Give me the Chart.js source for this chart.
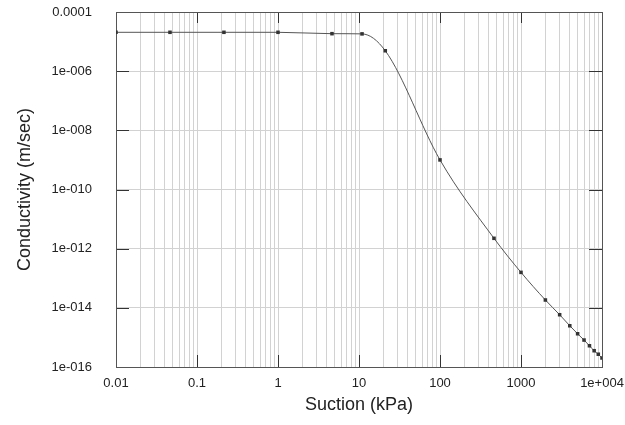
<!DOCTYPE html>
<html>
<head>
<meta charset="utf-8">
<script src="https://cdn.jsdelivr.net/npm/chart.js@4"></script>
<style>
  body { margin: 0; background: #fff; }
  #wrap { width: 625px; height: 425px; }
</style>
</head>
<body>
<div id="wrap"><canvas id="chart" width="625" height="425"></canvas></div>
<script>
// values
const suction = [0.01, 0.0464, 0.215, 1, 4.64, 10.9, 21.1, 100, 464, 1000,
  2000, 3000, 4000, 5000, 6000, 7000, 8000, 9000, 10000];
const conductivity = [2.06e-5, 2.06e-5, 2.06e-5, 2.06e-5, 1.85e-5, 1.82e-5, 4.9e-6, 1.0e-9, 2.24e-12, 1.58e-13,
  1.84e-14, 5.85e-15, 2.48e-15, 1.33e-15, 8.15e-16, 5.23e-16, 3.55e-16, 2.7e-16, 2.0e-16];

const xTickValues = [0.01, 0.1, 1, 10, 100, 1000, 10000];
const xTickLabels = ["0.01", "0.1", "1", "10", "100", "1000", "1e+004"];
const yTickValues = [1e-16, 1e-14, 1e-12, 1e-10, 1e-8, 1e-6, 1e-4];
const yTickLabels = ["1e-016", "1e-014", "1e-012", "1e-010", "1e-008", "1e-006", "0.0001"];

function findLabel(values, labels, v) {
  for (let i = 0; i < values.length; i++) {
    if (Math.abs(Math.log10(v) - Math.log10(values[i])) < 1e-6) return labels[i];
  }
  return "";
}

// minor grid positions 1..9 in each decade
function decadeSteps(values) {
  const out = [];
  for (let i = 0; i < values.length - 1; i++) {
    for (let m = 1; m <= 9; m++) out.push(values[i] * m);
  }
  out.push(values[values.length - 1]);
  return out;
}

const frame = {
  id: "frame",
  beforeDatasetsDraw(chart) {
    const { ctx, chartArea: a, scales } = chart;
    ctx.save();
    ctx.strokeStyle = "#333";
    ctx.lineWidth = 1;
    ctx.beginPath();
    xTickValues.forEach(v => {
      const px = Math.round(scales.x.getPixelForValue(v)) + 0.5;
      ctx.moveTo(px, a.bottom); ctx.lineTo(px, a.bottom - 12);
      ctx.moveTo(px, a.top); ctx.lineTo(px, a.top + 11);
    });
    yTickValues.forEach(v => {
      const py = Math.round(scales.y.getPixelForValue(v)) + 0.5;
      ctx.moveTo(a.left, py); ctx.lineTo(a.left + 13, py);
      ctx.moveTo(a.right, py); ctx.lineTo(a.right - 13, py);
    });
    ctx.stroke();
    ctx.strokeStyle = "#555";
    ctx.strokeRect(Math.round(a.left) + 0.5, Math.round(a.top) + 0.5,
      Math.round(a.right - a.left), Math.round(a.bottom - a.top));
    ctx.restore();
  }
};

new Chart(document.getElementById("chart"), {
  type: "line",
  data: {
    datasets: [{
      data: suction.map((s, i) => ({ x: s, y: conductivity[i] })),
      borderColor: "#555",
      borderWidth: 1,
      cubicInterpolationMode: "monotone",
      pointStyle: "rect",
      pointRadius: 2.5,
      pointBackgroundColor: "#333",
      pointBorderWidth: 0
    }]
  },
  options: {
    responsive: false,
    animation: false,
    layout: { padding: { top: 12, right: 23, left: 0, bottom: 0 } },
    plugins: { legend: { display: false }, tooltip: { enabled: false } },
    scales: {
      x: {
        type: "logarithmic",
        min: 0.01,
        max: 10000,
        afterBuildTicks: s => { s.ticks = decadeSteps(xTickValues).map(v => ({ value: v })); },
        afterFit: s => { s.height = 58; s.paddingLeft = 0; s.paddingRight = 0; },
        grid: { color: "#d2d2d2", drawTicks: false },
        border: { display: false },
        ticks: {
          autoSkip: false,
          maxRotation: 0,
          padding: 9,
          color: "#222",
          font: { family: "Liberation Sans", size: 13 },
          callback: v => findLabel(xTickValues, xTickLabels, v)
        },
        title: {
          display: true,
          text: "Suction (kPa)",
          color: "#222",
          font: { family: "Liberation Sans", size: 18 },
          padding: { top: 0, bottom: 9 }
        }
      },
      y: {
        type: "logarithmic",
        min: 1e-16,
        max: 1e-4,
        afterBuildTicks: s => { s.ticks = yTickValues.map(v => ({ value: v })); },
        afterFit: s => { s.width = 116; s.paddingTop = 0; s.paddingBottom = 0; },
        grid: { color: "#d2d2d2", drawTicks: false },
        border: { display: false },
        ticks: {
          autoSkip: false,
          padding: 24,
          color: "#222",
          font: { family: "Liberation Sans", size: 13 },
          callback: v => findLabel(yTickValues, yTickLabels, v)
        },
        title: {
          display: true,
          text: "Conductivity (m/sec)",
          color: "#222",
          font: { family: "Liberation Sans", size: 18 },
          padding: { top: 14, bottom: 0 }
        }
      }
    }
  },
  plugins: [frame]
});
</script>
</body>
</html>
